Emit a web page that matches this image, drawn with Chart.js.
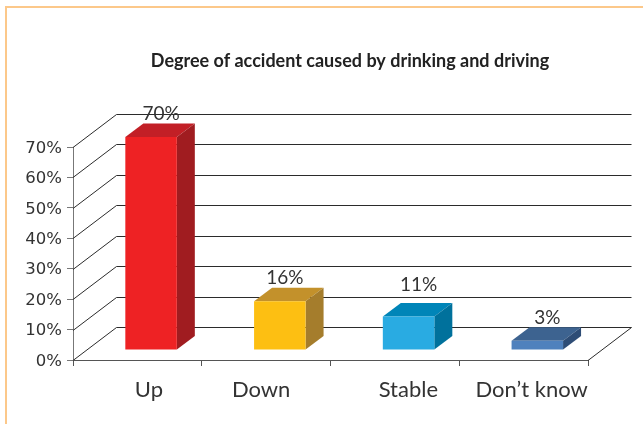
<!DOCTYPE html>
<html><head><meta charset="utf-8">
<script src="https://cdn.jsdelivr.net/npm/chart.js@4"></script>
<style>
html,body{margin:0;padding:0;background:#fff;overflow:hidden}
#wrap{position:relative;width:643px;height:424px;overflow:hidden}
#frame{position:absolute;left:5px;top:6px;right:-10px;bottom:-10px;border:2px solid #FCC88A;border-bottom:none;border-right:none}
canvas{position:absolute;left:0;top:0}
</style></head><body>
<div id="wrap"><div id="frame"></div><canvas id="c" width="643" height="424"></canvas></div>
<script>
const categories = ["Up", "Down", "Stable", "Don\u2019t know"];
const values = [70, 16, 11, 3];
const yMax = 70, yStep = 10;
const titleText = "Degree of accident caused by drinking and driving";
const frontColors = ["#EE2224", "#FDBF12", "#29ABE2", "#4F81BD"];
const topColors = ["#C21F26", "#C3912B", "#0085B8", "#3D6390"];
const sideColors = ["#A01C20", "#A57D2C", "#00719C", "#2E4D76"];
const labelNudgeX = [0, -5, 0, 0];
const labelNudgeY = [0, 0, -9, 0];
const tickNudgeX = [11.5, -5, 13.5, 8];

const WALL = {dx: 43.5, dy: -33};
const BAR_DEPTH = {dx: 18, dy: -13.5};
const BAR_SHIFT = {dx: 13.7, dy: -10};
const INK = "#333";

function poly(ctx, pts, fill) {
  ctx.beginPath();
  pts.forEach((p, i) => i ? ctx.lineTo(p[0], p[1]) : ctx.moveTo(p[0], p[1]));
  ctx.closePath();
  ctx.fillStyle = fill;
  ctx.fill();
}

const threeD = {
  id: "threeD",
  afterLayout(chart) {
    chart.titleBlock.left = 57;
    chart.titleBlock.right = 643;
    chart.scales.x.getLabelItems(chart.chartArea).forEach((it, i) => {
      it.options.translation = [it.options.translation[0] + tickNudgeX[i], it.options.translation[1]];
    });
    chart.scales.y.getLabelItems(chart.chartArea).forEach(it => {
      it.options.translation = [it.options.translation[0], it.options.translation[1] + 1.5];
    });
  },
  beforeDatasetsDraw(chart) {
    const {ctx, scales: {x, y}} = chart;
    ctx.save();
    ctx.strokeStyle = "#2b2b2b";
    ctx.lineWidth = 1;
    y.ticks.forEach(t => {
      const py = Math.round(y.getPixelForValue(t.value)) + 0.5;
      ctx.beginPath();
      ctx.moveTo(x.left, py);
      ctx.lineTo(x.left + WALL.dx, py + WALL.dy);
      ctx.lineTo(x.right + WALL.dx, py + WALL.dy);
      if (t.value === 0) ctx.lineTo(x.right, py);
      ctx.stroke();
    });
    ctx.restore();
  },
  beforeDatasetDraw(chart, args) {
    const {ctx} = chart;
    const meta = chart.getDatasetMeta(args.index);
    meta.data.forEach((bar, i) => {
      const w = bar.width / 2;
      const l = bar.x - w + BAR_SHIFT.dx, r = bar.x + w + BAR_SHIFT.dx;
      const t = bar.y + BAR_SHIFT.dy, b = bar.base + BAR_SHIFT.dy;
      const d = BAR_DEPTH;
      poly(ctx, [[l, t], [r, t], [r + d.dx, t + d.dy], [l + d.dx, t + d.dy]], topColors[i]);
      poly(ctx, [[r, t], [r + d.dx, t + d.dy], [r + d.dx, b + d.dy], [r, b]], sideColors[i]);
    });
    ctx.save();
    ctx.translate(BAR_SHIFT.dx, BAR_SHIFT.dy);
  },
  afterDatasetDraw(chart) { chart.ctx.restore(); },
  afterDatasetsDraw(chart) {
    const {ctx} = chart;
    const meta = chart.getDatasetMeta(0);
    ctx.save();
    ctx.font = '19px Lato';
    ctx.fillStyle = INK;
    ctx.textAlign = "center";
    ctx.textBaseline = "middle";
    meta.data.forEach((bar, i) => {
      ctx.fillText(values[i] + "%", bar.x + BAR_SHIFT.dx + 10 + labelNudgeX[i], bar.y + BAR_SHIFT.dy - 23 + labelNudgeY[i]);
    });
    ctx.restore();
  }
};

new Chart(document.getElementById("c"), {
  type: "bar",
  data: {labels: categories, datasets: [{data: values, backgroundColor: frontColors, borderWidth: 0,
    barPercentage: 0.4, categoryPercentage: 1}]},
  plugins: [threeD],
  options: {
    responsive: false, animation: false,
    layout: {padding: {left: 0, right: 55, top: 0, bottom: 0}},
    plugins: {
      legend: {display: false}, tooltip: {enabled: false},
      title: {display: true, text: titleText, color: "#222",
        font: {family: 'Lato', size: 18, weight: "bold", lineHeight: 1.2},
        padding: {top: 50, bottom: 75.4}}
    },
    scales: {
      x: {
        afterFit(s) { s.height = 64; },
        grid: {drawOnChartArea: false, color: "#555", tickLength: 6},
        border: {color: "#555"},
        ticks: {color: INK, font: {family: 'Lato', size: 22}, maxRotation: 0, autoSkip: false, padding: 11}
      },
      y: {
        min: 0, max: yMax,
        afterFit(s) { s.width = 73; },
        grid: {drawOnChartArea: false, color: "#777", tickLength: 6},
        border: {color: "#777"},
        ticks: {stepSize: yStep, color: INK, font: {family: '"DejaVu Sans"', size: 16.5}, padding: 5,
          callback: v => v + "%"}
      }
    }
  }
});
</script></body></html>
